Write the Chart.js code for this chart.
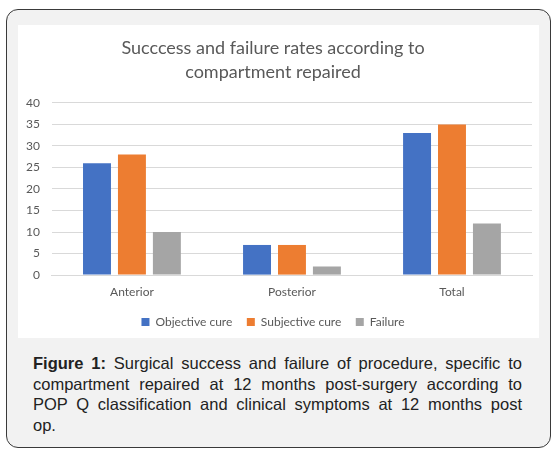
<!DOCTYPE html>
<html>
<head>
<meta charset="utf-8">
<script src="https://cdn.jsdelivr.net/npm/chart.js@4/dist/chart.umd.min.js"></script>
<style>
  html, body { margin: 0; padding: 0; background: #fff; }
  body { width: 558px; height: 460px; position: relative; overflow: hidden; }
  /* grey card with rounded dark border */
  #frame {
    position: absolute; left: 6px; top: 9px; width: 543px; height: 437px;
    background: #f2f2f2; border: 1.5px solid #3a3a3a; border-radius: 12px;
  }
  #panel {
    position: absolute; left: 18px; top: 25px; width: 521px; height: 313px;
    background: #fff;
  }
  #caption {
    position: absolute; left: 33px; top: 353px; width: 489px;
    font-family: "Liberation Sans", Arial, sans-serif; font-size: 16.5px;
    line-height: 20.6px; color: #222; text-align: justify;
  }
  /* keep the line breaks of the printed caption, every line but the last justified */
  #caption span { display: block; white-space: nowrap; text-align-last: justify; }
  #caption span.last { text-align-last: left; }
</style>
</head>
<body>
<div id="frame"></div>
<div id="panel"><canvas id="myChart" width="521" height="313"></canvas></div>
<div id="caption">
  <span><b>Figure 1:</b> Surgical success and failure of procedure, specific to</span>
  <span>compartment repaired at 12 months post-surgery according to</span>
  <span>POP Q classification and clinical symptoms at 12 months post</span>
  <span class="last">op.</span>
</div>

<script>
// categories on the x axis
var compartments = ["Anterior", "Posterior", "Total"]

// values
var objectiveCure = [26, 7, 33]
var subjectiveCure = [28, 7, 35]
var failure = [10, 2, 12]

var titleLines = ["Succcess and failure rates according to", "compartment repaired"]

Chart.defaults.font.family = "Lato, 'Open Sans', sans-serif"
Chart.defaults.color = "#595959"

var ctx = document.getElementById('myChart').getContext('2d')
var chart = new Chart(ctx, {
    type: 'bar',
    data: {
        labels: compartments,
        datasets: [{
            label: 'Objective cure',
            backgroundColor: '#4472c4',
            data: objectiveCure
        }, {
            label: 'Subjective cure',
            backgroundColor: '#ed7d31',
            data: subjectiveCure
        }, {
            label: 'Failure',
            backgroundColor: '#a5a5a5',
            data: failure
        }]
    },
    options: {
        responsive: false,
        animation: false,
        categoryPercentage: 0.655,
        barPercentage: 0.8,
        layout: { padding: { left: -4, right: 7, bottom: 0 } },
        plugins: {
            title: {
                display: true,
                text: titleLines,
                font: { size: 18, weight: 'normal', lineHeight: 1.33 },
                color: '#595959',
                padding: { top: 11, bottom: 19 }
            },
            legend: {
                position: 'bottom',
                labels: {
                    boxWidth: 8, boxHeight: 8, padding: 14.5,
                    font: { size: 12 }, color: '#595959'
                }
            },
            tooltip: { enabled: false }
        },
        scales: {
            x: {
                grid: { display: false },
                border: { color: '#d9d9d9' },
                ticks: { font: { size: 12 }, padding: 2 }
            },
            y: {
                min: 0, max: 40,
                grid: { color: '#d9d9d9', drawTicks: false },
                border: { display: false },
                ticks: { stepSize: 5, font: { size: 12 }, padding: 12 }
            }
        }
    }
})
</script>
</body>
</html>
